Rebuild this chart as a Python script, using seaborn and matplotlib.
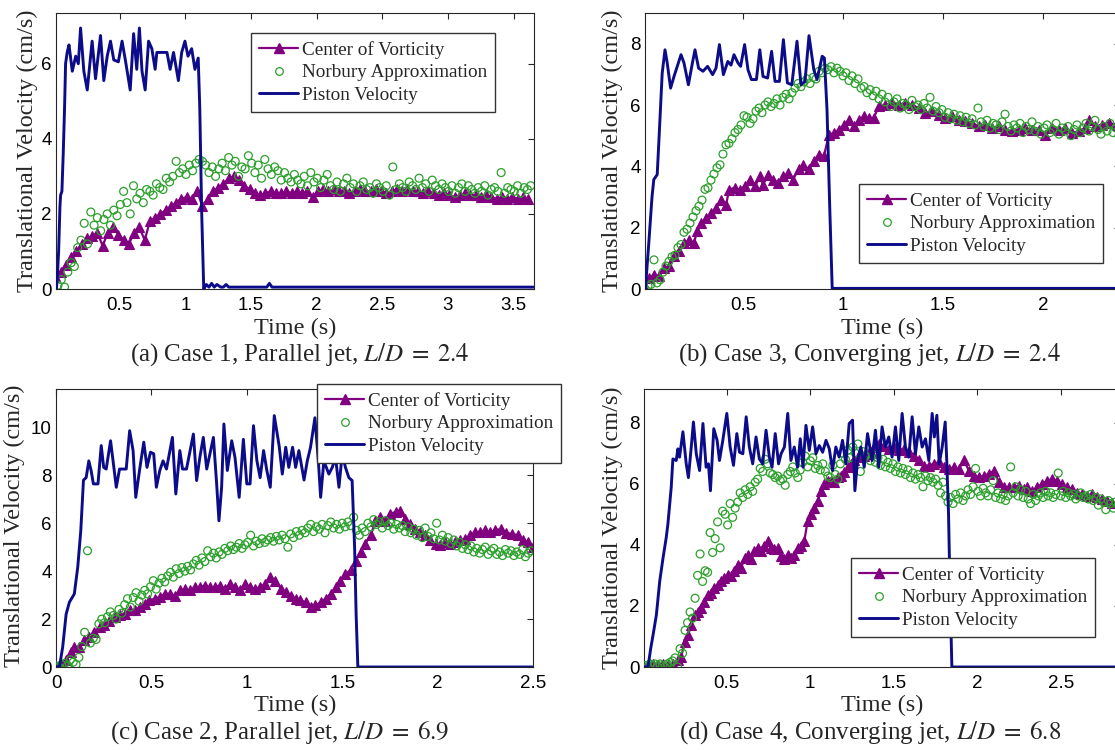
import numpy as np
import matplotlib
matplotlib.use("Agg")
import matplotlib.pyplot as plt
from matplotlib.lines import Line2D
from matplotlib.ticker import FuncFormatter
import seaborn as sns

# ---------------- data ----------------
LABELS = ["Center of Vorticity", "Norbury Approximation", "Piston Velocity"]
CAPTIONS = [r"(a) Case 1, Parallel jet, $L/D\;=\;2.4$",
            r"(b) Case 3, Converging jet, $L/D\;=\;2.4$",
            r"(c) Case 2, Parallel jet, $L/D\;=\;6.9$",
            r"(d) Case 4, Converging jet, $L/D\;=\;6.8$"]
XLABEL = "Time (s)"
YLABEL = "Translational Velocity (cm/s)"

# ---- panel (a) ----
a_xticks = [0.5, 1, 1.5, 2, 2.5, 3, 3.5]
a_yticks = [0, 2, 4, 6]
a_pis_t = [0.018, 0.025, 0.035, 0.045, 0.05, 0.06, 0.07, 0.08, 0.088, 0.1, 0.114, 0.139, 0.165, 0.185, 0.202,
           0.227, 0.253, 0.29, 0.316, 0.354, 0.379, 0.405, 0.43, 0.455, 0.49, 0.518, 0.543, 0.58, 0.606, 0.63,
           0.65, 0.67, 0.694, 0.72, 0.745, 0.77, 0.783, 0.80, 0.82, 0.84, 0.86, 0.884, 0.91, 0.947, 0.972,
           0.997, 1.02, 1.048, 1.073, 1.098, 1.11, 1.124, 1.14, 1.16, 1.18, 1.20, 1.22, 1.24, 1.27, 1.29,
           1.31, 1.33, 1.62, 1.64, 1.66, 3.65]
a_pis_v = [0.0, 0.3, 1.0, 2.2, 2.5, 2.6, 3.6, 4.8, 6.0, 6.3, 6.5, 5.8, 6.2, 6.0, 6.95,
           5.8, 5.3, 6.6, 5.6, 6.75, 5.55, 6.2, 6.6, 6.1, 6.05, 6.6, 6.1, 5.3, 6.8, 5.85,
           6.95, 5.8, 5.3, 6.6, 6.4, 5.85, 6.3, 6.3, 6.3, 6.3, 6.3, 5.85, 6.3, 5.55, 6.3,
           6.6, 6.2, 6.4, 5.85, 6.15, 4.8, 2.1, 0.0, 0.12, 0.05, 0.15, 0.05, 0.12, 0.05, 0.05,
           0.12, 0.05, 0.05, 0.15, 0.05, 0.05]
a_cov_t0, a_cov_dt = 0.01, 0.04
a_cov_v = [0.35, 0.45, 0.65, 0.85, 1.0, 1.2, 1.35, 1.4, 1.5, 1.15,
           1.5, 1.65, 1.45, 1.3, 1.2, 1.5, 1.65, 1.3, 1.8, 1.9,
           2.0, 2.1, 2.2, 2.3, 2.4, 2.45, 2.4, 2.6, 2.2, 2.4,
           2.6, 2.7, 2.8, 2.95, 3.0, 2.9, 2.75, 2.65, 2.55, 2.5,
           2.55, 2.6, 2.55, 2.55, 2.6, 2.55, 2.6, 2.55, 2.6, 2.45,
           2.6, 2.65, 2.6, 2.65, 2.6, 2.6, 2.55, 2.6, 2.65, 2.6,
           2.6, 2.65, 2.6, 2.55, 2.6, 2.65, 2.6, 2.65, 2.6, 2.6,
           2.55, 2.6, 2.55, 2.5, 2.55, 2.5, 2.45, 2.5, 2.55, 2.5,
           2.5, 2.45, 2.5, 2.45, 2.4, 2.45, 2.4, 2.45, 2.4, 2.45,
           2.4]
a_nb_t0, a_nb_dt = 0.03, 0.025
a_nb_v = [0.1, 0.25, 0.05, 0.45, 0.7, 0.6, 1.1, 1.3, 1.75, 1.2,
          2.05, 1.7, 1.9, 1.55, 1.85, 2.0, 1.7, 2.1, 1.95, 2.25,
          2.6, 2.3, 2.0, 2.75, 2.4, 2.55, 2.3, 2.65, 2.6, 2.5,
          2.8, 2.7, 2.65, 2.95, 2.85, 3.0, 3.4, 3.1, 3.2, 3.05,
          3.3, 3.15, 3.35, 3.45, 3.4, 3.3, 3.1, 3.25, 3.0, 3.2,
          3.35, 3.15, 3.5, 3.3, 3.4, 3.0, 3.25, 3.2, 3.55, 3.35,
          3.1, 3.3, 2.95, 3.45, 3.2, 3.05, 3.25, 3.15, 2.9, 3.1,
          2.95, 2.85, 3.05, 2.9, 2.8, 3.0, 2.75, 3.1, 2.85, 2.95,
          2.7, 2.9, 3.05, 2.75, 2.65, 2.85, 2.6, 2.8, 2.95, 2.7,
          2.8, 2.6, 2.75, 2.85, 2.65, 2.7, 2.55, 2.8, 2.7, 2.6,
          2.75, 2.5, 3.25, 2.65, 2.8, 2.7, 2.6, 2.85, 2.75, 2.65,
          2.95, 2.7, 2.8, 2.6, 2.9, 2.75, 2.65, 2.8, 2.7, 2.6,
          2.75, 2.55, 2.7, 2.8, 2.6, 2.75, 2.65, 2.55, 2.7, 2.6,
          2.75, 2.5, 2.65, 2.7, 2.6, 3.1, 2.55, 2.7, 2.65, 2.6,
          2.75, 2.55, 2.7, 2.65, 2.75]

# ---- panel (b) ----
b_xticks = [0.5, 1, 1.5, 2]
b_yticks = [0, 2, 4, 6, 8]
b_pis_t = [0.01, 0.012, 0.029, 0.045, 0.054, 0.071, 0.079, 0.096, 0.11, 0.12, 0.138, 0.155, 0.19, 0.205,
           0.227, 0.247, 0.26, 0.278, 0.3, 0.323, 0.348, 0.365, 0.382, 0.402, 0.424, 0.44, 0.455, 0.475,
           0.488, 0.508, 0.525, 0.542, 0.567, 0.584, 0.6, 0.623, 0.643, 0.66, 0.682, 0.702, 0.722, 0.744,
           0.77, 0.79, 0.81, 0.83, 0.854, 0.87, 0.896, 0.907, 0.92, 0.934, 0.946, 2.4]
b_pis_v = [0.0, 0.0, 1.5, 3.0, 3.57, 3.73, 4.76, 7.04, 7.8, 7.42, 6.55, 6.93, 7.64, 7.37,
           6.66, 7.37, 7.8, 7.2, 7.1, 7.26, 6.99, 7.2, 7.97, 6.99, 7.42, 7.3, 7.64, 7.37,
           7.26, 7.97, 7.15, 6.83, 6.83, 7.8, 6.93, 6.88, 7.75, 6.77, 6.77, 8.13, 6.72, 6.66,
           8.08, 6.66, 6.77, 8.26, 7.15, 6.83, 7.59, 7.53, 5.85, 2.59, 0.02, 0.02]
b_cov_t = [0.008, 0.03, 0.055, 0.08, 0.105, 0.13, 0.155, 0.18, 0.205, 0.23,
           0.255, 0.27, 0.29, 0.315, 0.34, 0.365, 0.39, 0.416, 0.43, 0.458,
           0.483, 0.508, 0.534, 0.56, 0.584, 0.6, 0.626, 0.65, 0.677, 0.7,
           0.727, 0.75, 0.778, 0.8, 0.83, 0.853, 0.879, 0.904, 0.93, 0.955,
           0.98, 1.005, 1.03, 1.055, 1.08, 1.106, 1.13, 1.153, 1.18, 1.21,
           1.245, 1.28, 1.31, 1.345, 1.38, 1.41, 1.445, 1.48, 1.51, 1.545,
           1.58, 1.61, 1.645, 1.68, 1.71, 1.745, 1.78, 1.81, 1.845, 1.88,
           1.91, 1.945, 1.98, 2.01, 2.045, 2.08, 2.11, 2.145, 2.18, 2.21,
           2.23, 2.26, 2.295, 2.33, 2.37, 2.40]
b_cov_v = [0.0, 0.36, 0.47, 0.41, 0.68, 0.74, 1.07, 1.23, 1.5, 1.6,
           1.5, 1.88, 2.15, 2.3, 2.48, 2.64, 2.9, 2.75, 3.24, 3.3,
           3.24, 3.35, 3.57, 3.35, 3.67, 3.4, 3.73, 3.57, 3.46, 3.67,
           3.78, 3.57, 3.9, 4.05, 3.9, 4.16, 4.38, 4.33, 5.03, 5.09,
           5.2, 5.36, 5.52, 5.3, 5.52, 5.63, 5.58, 5.58, 5.96, 6.0,
           6.07, 6.0, 6.07, 6.0, 5.9, 5.74, 5.8, 5.69, 5.58, 5.63,
           5.52, 5.47, 5.41, 5.3, 5.36, 5.25, 5.3, 5.2, 5.14, 5.2,
           5.25, 5.2, 5.2, 5.03, 5.25, 5.2, 5.25, 5.09, 5.14, 5.25,
           5.52, 5.3, 5.36, 5.41, 5.36, 5.3]
b_nb_t0, b_nb_dt = 0.01, 0.015
b_nb_v = [0.0, 0.1, 0.15, 0.95, 0.2, 0.3, 0.55, 0.75, 0.9, 1.05,
          1.1, 1.35, 1.45, 1.85, 1.95, 2.15, 2.35, 2.55, 2.7, 2.9,
          3.25, 3.3, 3.55, 3.75, 3.95, 4.05, 4.4, 4.7, 4.75, 4.9,
          5.1, 5.2, 5.35, 5.65, 5.6, 5.4, 5.55, 5.8, 5.9, 5.75,
          6.0, 6.1, 5.95, 6.05, 6.2, 6.0, 6.25, 6.35, 6.2, 6.4,
          6.55, 6.7, 6.6, 6.75, 6.85, 6.7, 6.9, 6.85, 7.1, 7.05,
          7.2, 7.15, 7.25, 7.05, 7.2, 7.1, 6.95, 7.05, 6.8, 6.95,
          6.7, 6.85, 6.55, 6.6, 6.4, 6.5, 6.3, 6.45, 6.2, 6.35,
          6.1, 6.25, 5.95, 6.1, 6.2, 5.9, 6.05, 6.0, 5.85, 6.15,
          5.95, 6.0, 5.85, 6.05, 5.9, 6.25, 5.8, 5.95, 5.75, 5.85,
          5.6, 5.75, 5.55, 5.7, 5.5, 5.65, 5.45, 5.6, 5.4, 5.55,
          5.35, 5.9, 5.45, 5.3, 5.5, 5.25, 5.4, 5.35, 5.2, 5.45,
          5.7, 5.3, 5.15, 5.35, 5.25, 5.4, 5.1, 5.3, 5.2, 5.45,
          5.15, 5.3, 5.05, 5.25, 5.35, 5.1, 5.2, 5.4, 5.05, 5.25,
          5.15, 5.3, 5.0, 5.2, 5.35, 5.1, 5.25, 5.4, 5.15, 5.3,
          5.5, 5.2, 5.05, 5.3, 5.15, 5.4, 5.1, 5.25, 5.0, 5.2]

# ---- panel (c) ----
c_xticks = [0, 0.5, 1, 1.5, 2, 2.5]
c_yticks = [0, 2, 4, 6, 8, 10]
c_pis_t = [0.0, 0.018, 0.035, 0.053, 0.07, 0.096, 0.114, 0.13, 0.144, 0.158,
           0.172, 0.184, 0.196, 0.22, 0.237, 0.25, 0.263, 0.286, 0.3, 0.316,
           0.333, 0.368, 0.386, 0.404, 0.418, 0.44, 0.46, 0.477, 0.495, 0.512,
           0.526, 0.544, 0.561, 0.579, 0.61, 0.628, 0.649, 0.663, 0.684, 0.72,
           0.737, 0.754, 0.772, 0.79, 0.825, 0.842, 0.854, 0.868, 0.88, 0.898,
           0.921, 0.938, 0.96, 0.982, 1.0, 1.017, 1.035, 1.053, 1.07, 1.088,
           1.105, 1.123, 1.144, 1.17, 1.186, 1.204, 1.22, 1.24, 1.256, 1.273,
           1.3, 1.317, 1.334, 1.357, 1.375, 1.387, 1.404, 1.43, 1.448, 1.465,
           1.483, 1.5, 1.517, 1.535, 1.552, 1.565, 1.573, 1.582, 2.5]
c_pis_v = [0.0, 0.0, 0.83, 2.2, 2.7, 3.05, 4.17, 5.7, 7.8, 7.9,
           8.6, 8.2, 7.64, 7.64, 9.24, 8.33, 8.26, 9.44, 8.54, 7.5,
           8.26, 8.26, 9.86, 9.03, 7.08, 8.33, 9.38, 8.33, 8.96, 8.9,
           7.5, 8.2, 8.6, 8.26, 9.58, 7.22, 9.03, 8.26, 8.26, 9.72,
           7.78, 8.75, 9.58, 8.26, 9.58, 7.64, 6.1, 7.5, 10.14, 8.2,
           9.44, 8.75, 7.08, 9.5, 7.64, 7.64, 10.07, 8.6, 7.9, 9.03,
           8.2, 7.5, 10.49, 9.2, 8.05, 9.17, 8.33, 9.17, 8.33, 9.03,
           7.8, 8.6, 9.17, 10.4, 8.6, 7.08, 8.6, 8.05, 8.33, 8.75,
           7.5, 8.9, 8.33, 7.9, 7.78, 5.0, 2.2, 0.0, 0.0]
c_cov_t = [0.0, 0.026, 0.053, 0.08, 0.096, 0.12, 0.149, 0.175, 0.2, 0.228,
           0.254, 0.28, 0.307, 0.333, 0.36, 0.386, 0.412, 0.44, 0.465, 0.49,
           0.518, 0.544, 0.57, 0.596, 0.623, 0.65, 0.675, 0.7, 0.728, 0.754,
           0.78, 0.807, 0.833, 0.86, 0.886, 0.912, 0.94, 0.965, 0.99, 1.017,
           1.044, 1.07, 1.096, 1.123, 1.15, 1.18, 1.204, 1.23, 1.256, 1.28,
           1.31, 1.334, 1.36, 1.387, 1.413, 1.44, 1.465, 1.49, 1.517, 1.544,
           1.57, 1.596, 1.62, 1.65, 1.674, 1.7, 1.726, 1.75, 1.78, 1.805,
           1.83, 1.857, 1.883, 1.91, 1.935, 1.96, 1.99, 2.014, 2.04, 2.066,
           2.09, 2.12, 2.145, 2.17, 2.197, 2.223, 2.25, 2.275, 2.3, 2.33,
           2.36, 2.39, 2.42, 2.45, 2.475, 2.5]
c_cov_v = [0.0, 0.14, 0.28, 0.63, 0.83, 0.83, 1.11, 1.25, 1.46, 1.67,
           1.74, 1.94, 2.08, 2.15, 2.22, 2.36, 2.36, 2.5, 2.64, 2.78,
           2.85, 2.92, 3.05, 3.05, 2.98, 3.2, 3.26, 3.2, 3.33, 3.33,
           3.4, 3.33, 3.33, 3.4, 3.26, 3.47, 3.33, 3.2, 3.47, 3.33,
           3.26, 3.33, 3.47, 3.75, 3.6, 3.26, 3.125, 2.98, 2.85, 2.78,
           2.7, 2.5, 2.57, 2.7, 2.85, 3.05, 3.33, 3.6, 3.9, 4.03,
           4.44, 4.8, 5.14, 5.5, 6.1, 6.25, 6.1, 6.4, 6.46, 6.53,
           6.18, 5.97, 5.76, 5.625, 5.5, 5.28, 5.14, 5.07, 5.2, 5.14,
           5.2, 5.28, 5.35, 5.5, 5.625, 5.625, 5.7, 5.625, 5.7, 5.76,
           5.6, 5.55, 5.5, 5.3, 5.2, 5.0]
c_nb_t0, c_nb_dt = 0.0, 0.015
c_nb_v = [0.05, 0.0, 0.1, 0.15, 0.05, 0.3, 0.2, 0.1, 0.4, 0.85,
          1.45, 4.85, 1.0, 1.2, 1.15, 1.8, 2.0, 1.85, 2.1, 2.3,
          2.15, 2.0, 2.4, 2.25, 2.6, 2.85, 2.5, 2.9, 3.1, 2.75,
          3.0, 3.2, 3.05, 3.35, 3.6, 3.25, 3.5, 3.7, 3.55, 3.8,
          3.95, 3.75, 4.1, 3.9, 4.15, 4.0, 4.2, 4.05, 4.3, 4.45,
          4.25, 4.55, 4.4, 4.85, 4.6, 4.75, 4.55, 4.8, 4.7, 4.95,
          4.85, 5.05, 4.9, 5.0, 5.15, 4.95, 5.1, 5.2, 5.5, 5.05,
          5.25, 5.15, 5.35, 5.2, 5.3, 5.4, 5.25, 5.45, 5.3, 5.5,
          5.35, 5.0, 5.55, 5.4, 5.65, 5.5, 5.7, 5.6, 5.8, 5.95,
          5.65, 5.85, 5.75, 5.95, 5.6, 5.9, 6.05, 5.8, 5.95, 5.75,
          6.0, 5.85, 6.05, 5.9, 6.25, 5.7, 5.5, 5.8, 5.65, 6.0,
          5.85, 6.15, 5.95, 6.05, 5.8, 6.1, 5.9, 6.0, 5.75, 5.95,
          5.8, 5.9, 5.65, 5.85, 5.6, 5.75, 5.5, 5.7, 5.4, 5.8,
          5.45, 5.6, 5.35, 6.0, 5.3, 5.5, 5.25, 5.4, 5.15, 5.3,
          5.05, 5.2, 4.95, 5.1, 4.9, 5.05, 4.8, 4.95, 4.75, 4.9,
          5.0, 4.7, 4.85, 4.95, 4.7, 4.8, 4.65, 4.9, 4.75, 4.85,
          4.65, 4.8, 4.7, 4.9, 4.6, 4.75, 4.85]

# ---- panel (d) ----
d_xticks = [0.5, 1, 1.5, 2, 2.5]
d_yticks = [0, 2, 4, 6, 8]
d_pis_t = [0.004, 0.028, 0.044, 0.058, 0.078, 0.098, 0.118, 0.137, 0.147, 0.167,
           0.177, 0.197, 0.207, 0.217, 0.237, 0.257, 0.27, 0.287, 0.3, 0.317,
           0.337, 0.357, 0.376, 0.39, 0.402, 0.422, 0.442, 0.456, 0.476, 0.5,
           0.52, 0.54, 0.56, 0.576, 0.596, 0.616, 0.635, 0.655, 0.675, 0.695,
           0.715, 0.735, 0.755, 0.771, 0.79, 0.81, 0.825, 0.845, 0.865, 0.884,
           0.904, 0.924, 0.94, 0.956, 0.974, 0.994, 1.014, 1.034, 1.054, 1.074,
           1.094, 1.114, 1.133, 1.153, 1.173, 1.193, 1.213, 1.233, 1.253, 1.267,
           1.283, 1.303, 1.323, 1.343, 1.37, 1.39, 1.41, 1.43, 1.45, 1.47,
           1.49, 1.51, 1.53, 1.55, 1.57, 1.59, 1.61, 1.63, 1.65, 1.67,
           1.69, 1.71, 1.73, 1.743, 1.758, 1.772, 1.79, 1.808, 1.818, 1.828,
           1.838, 1.848, 2.86]
d_pis_v = [0.0, 0.0, 0.6, 1.04, 1.7, 2.8, 3.57, 4.23, 4.67, 5.88,
           6.81, 6.76, 7.14, 6.87, 7.7, 6.65, 6.2, 7.2, 8.02, 6.98,
           6.43, 7.97, 6.54, 6.65, 5.77, 7.8, 7.42, 6.76, 7.42, 8.3,
           7.2, 6.6, 7.64, 7.03, 6.98, 8.19, 7.2, 6.65, 7.53, 6.81,
           6.65, 7.75, 6.87, 6.54, 7.64, 6.65, 6.98, 7.2, 8.3, 6.76,
           7.2, 6.54, 7.47, 6.54, 7.91, 7.09, 7.86, 6.98, 7.25, 7.03,
           7.42, 7.14, 6.43, 7.2, 6.87, 7.42, 6.65, 7.97, 8.08, 5.77,
           6.76, 7.2, 6.54, 7.64, 6.76, 7.75, 6.54, 7.86, 7.2, 7.53,
           6.87, 7.86, 6.76, 8.3, 7.2, 6.87, 8.19, 6.98, 7.86, 7.2,
           7.47, 6.76, 8.3, 7.53, 8.24, 6.65, 7.2, 8.02, 6.65, 5.0,
           2.25, 0.0, 0.0]
d_cov_t = [0.004, 0.028, 0.058, 0.088, 0.118, 0.147, 0.177, 0.207, 0.227, 0.247,
           0.267, 0.287, 0.307, 0.327, 0.347, 0.366, 0.386, 0.406, 0.426, 0.446,
           0.466, 0.486, 0.506, 0.526, 0.546, 0.566, 0.586, 0.606, 0.626, 0.645,
           0.665, 0.685, 0.705, 0.725, 0.745, 0.765, 0.785, 0.805, 0.825, 0.845,
           0.865, 0.885, 0.904, 0.924, 0.944, 0.964, 0.984, 1.004, 1.024, 1.044,
           1.064, 1.084, 1.104, 1.124, 1.143, 1.163, 1.183, 1.203, 1.223, 1.243,
           1.263, 1.283, 1.303, 1.323, 1.343, 1.363, 1.38, 1.41, 1.44, 1.47,
           1.5, 1.53, 1.56, 1.59, 1.62, 1.65, 1.68, 1.71, 1.74, 1.77,
           1.8, 1.83, 1.86, 1.89, 1.92, 1.95, 1.98, 2.01, 2.04, 2.07,
           2.1, 2.13, 2.16, 2.19, 2.22, 2.25, 2.28, 2.3, 2.33, 2.36,
           2.39, 2.42, 2.45, 2.48, 2.51, 2.54, 2.57, 2.6, 2.63, 2.66,
           2.69, 2.72, 2.75, 2.78, 2.81, 2.84, 2.87]
d_cov_v = [0.0, 0.05, 0.1, 0.05, 0.1, 0.05, 0.1, 0.22, 0.33, 0.82,
           1.04, 1.37, 1.7, 1.81, 1.92, 2.14, 2.36, 2.42, 2.58, 2.69,
           2.8, 2.91, 3.02, 2.97, 3.13, 3.35, 3.24, 3.57, 3.68, 3.52,
           3.79, 3.9, 3.79, 3.96, 4.12, 3.9, 3.85, 3.9, 3.63, 3.52,
           3.68, 3.57, 3.68, 3.9, 3.96, 4.12, 4.78, 5.0, 5.22, 5.44,
           5.77, 5.99, 6.1, 6.1, 6.04, 6.21, 6.26, 6.37, 6.54, 6.65,
           6.76, 6.87, 6.98, 6.92, 6.98, 7.03, 7.2, 7.3, 7.25, 7.14,
           7.2, 7.09, 7.14, 7.03, 6.92, 6.76, 6.59, 6.59, 6.65, 6.7,
           6.54, 6.48, 6.54, 6.48, 6.76, 6.43, 6.26, 6.21, 6.26, 6.32,
           6.43, 6.04, 5.88, 5.88, 5.88, 5.93, 5.82, 5.88, 5.77, 5.88,
           5.99, 6.1, 6.15, 6.1, 5.99, 5.88, 5.82, 5.71, 5.66, 5.6,
           5.66, 5.55, 5.49, 5.44, 5.38, 5.4, 5.35]
d_nb_t0, d_nb_dt = 0.01, 0.015
d_nb_v = [0.05, 0.0, 0.1, 0.05, 0.1, 0.0, 0.1, 0.05, 0.0, 0.1,
          0.15, 0.2, 0.3, 0.0, 0.6, 0.45, 1.2, 1.45, 1.8, 1.6,
          2.25, 3.0, 3.7, 2.8, 3.15, 3.1, 4.4, 3.75, 4.2, 4.75,
          3.9, 5.1, 5.0, 4.65, 5.35, 4.9, 5.2, 5.4, 5.7, 5.55,
          5.8, 5.65, 5.9, 5.75, 6.05, 6.15, 6.5, 6.4, 6.8, 6.65,
          6.35, 6.3, 6.2, 6.25, 6.1, 6.15, 5.95, 6.3, 6.4, 6.55,
          6.35, 6.2, 6.45, 6.7, 6.9, 6.55, 6.75, 6.85, 6.5, 6.6,
          6.45, 6.65, 6.4, 6.25, 6.2, 6.6, 6.3, 6.15, 6.65, 7.0,
          6.8, 7.1, 6.85, 7.2, 7.0, 7.3, 6.4, 7.05, 6.9, 7.0,
          6.75, 6.95, 6.7, 6.85, 6.6, 6.8, 6.55, 6.7, 6.5, 6.65,
          6.4, 6.55, 6.35, 6.5, 6.3, 6.45, 6.2, 6.35, 6.15, 6.3,
          6.2, 5.9, 6.25, 6.1, 6.2, 6.05, 6.15, 5.95, 5.7, 6.05,
          5.6, 5.4, 5.55, 5.35, 5.65, 5.5, 5.7, 5.45, 5.6, 5.8,
          5.65, 5.9, 6.5, 5.75, 5.6, 5.85, 5.7, 5.6, 5.8, 6.1,
          5.55, 5.7, 5.5, 5.65, 5.45, 5.6, 6.55, 5.7, 5.9, 5.6,
          5.8, 5.55, 5.75, 5.5, 5.35, 5.65, 5.45, 5.6, 5.7, 5.55,
          5.75, 5.6, 5.7, 5.55, 5.65, 6.35, 5.6, 5.75, 5.55, 5.7,
          5.6, 5.65, 5.5, 5.6, 5.7, 5.55, 5.6, 5.5, 5.65, 5.45,
          5.55, 5.3, 5.5, 5.4, 5.15, 5.45, 5.35, 5.2, 5.4, 5.3,
          5.35]

# ---------------- style ----------------
sns.set_theme(style="white")
plt.rcParams['font.family'] = ['Liberation Serif', 'DejaVu Serif']
plt.rcParams['mathtext.fontset'] = 'stix'

PURPLE = '#800080'
GREEN = '#2ca02c'
NAVY = '#0c0c8a'
SPINE = '#262626'

W, H = 1115, 750
fig = plt.figure(figsize=(W / 100, H / 100), dpi=100)


def frac_rect(l, r, t, b):
    return [l / W, 1 - b / H, (r - l) / W, (b - t) / H]


def grid(t0, dt, vals):
    return t0 + dt * np.arange(len(vals))


def panel(rect, xlim, ylim, xticks, yticks, cov_t, cov_v, nb_t, nb_v, pis_t, pis_v, leg_xy):
    ax = fig.add_axes(rect)
    sns.lineplot(x=np.asarray(cov_t), y=np.asarray(cov_v), ax=ax, color=PURPLE, linewidth=1.6,
                 marker='^', markersize=7.3, markerfacecolor=PURPLE, markeredgecolor=PURPLE,
                 markeredgewidth=0.8, estimator=None, sort=False, legend=False, zorder=2)
    sns.scatterplot(x=np.asarray(nb_t), y=np.asarray(nb_v), ax=ax, color=GREEN, marker='o', s=32,
                    legend=False, zorder=3)
    coll = ax.collections[-1]
    coll.set_facecolor('none')
    coll.set_edgecolor(GREEN)
    coll.set_linewidth(0.9)
    sns.lineplot(x=np.asarray(pis_t), y=np.asarray(pis_v), ax=ax, color=NAVY, linewidth=2.1,
                 estimator=None, sort=False, legend=False, zorder=4)
    ax.set_xlim(*xlim)
    ax.set_ylim(*ylim)
    ax.set_xticks(xticks)
    ax.set_yticks(yticks)
    fmt = FuncFormatter(lambda v, p: f'{v:g}')
    ax.xaxis.set_major_formatter(fmt)
    ax.yaxis.set_major_formatter(fmt)
    ax.set_xlabel('')
    ax.set_ylabel('')
    ax.tick_params(axis='both', direction='in', top=True, right=True, length=4.5, width=0.8,
                   color=SPINE, labelcolor='black', labelsize=13.5, labelfontfamily='Liberation Sans')
    ax.tick_params(axis='x', pad=6)
    ax.tick_params(axis='y', pad=3)
    for s in ax.spines.values():
        s.set_color(SPINE)
        s.set_linewidth(0.8)
        s.set_visible(True)
    handles = [Line2D([], [], color=PURPLE, lw=1.6, marker='^', ms=7.3, mfc=PURPLE, mec=PURPLE),
               Line2D([], [], ls='none', marker='o', ms=5.5, mfc='none', mec=GREEN, mew=0.9),
               Line2D([], [], color=NAVY, lw=2.1)]
    leg = ax.legend(handles, LABELS, loc='upper left',
                    bbox_to_anchor=(leg_xy[0] / W, 1 - leg_xy[1] / H),
                    bbox_transform=fig.transFigure, frameon=True, fancybox=False,
                    edgecolor='#333333', framealpha=1, fontsize=13.8, handlelength=2.05,
                    handletextpad=0.2, borderpad=0.42, labelspacing=0.26, numpoints=1,
                    borderaxespad=0)
    leg.get_frame().set_linewidth(1.0)
    return ax


panel(frac_rect(56, 534, 13, 289), (0.015, 3.655), (0, 7.35), a_xticks, a_yticks,
      grid(a_cov_t0, a_cov_dt, a_cov_v), a_cov_v, grid(a_nb_t0, a_nb_dt, a_nb_v), a_nb_v,
      a_pis_t, a_pis_v, (251, 33))
panel(frac_rect(645, 1120, 13, 289), (0.01, 2.385), (0, 9.0), b_xticks, b_yticks,
      b_cov_t, b_cov_v, grid(b_nb_t0, b_nb_dt, b_nb_v), b_nb_v,
      b_pis_t, b_pis_v, (859, 184))
panel(frac_rect(56, 533, 389, 667), (0.0, 2.5), (0, 11.6), c_xticks, c_yticks,
      c_cov_t, c_cov_v, grid(c_nb_t0, c_nb_dt, c_nb_v), c_nb_v,
      c_pis_t, c_pis_v, (317, 384))
panel(frac_rect(644, 1120, 389, 667), (0.004, 2.855), (0, 9.1), d_xticks, d_yticks,
      d_cov_t, d_cov_v, grid(d_nb_t0, d_nb_dt, d_nb_v), d_nb_v,
      d_pis_t, d_pis_v, (851, 558))

# axis labels and captions
for (x, y) in [(27, 151), (612, 151), (14, 526), (612, 528)]:
    fig.text(x / W, 1 - y / H, YLABEL, rotation=90, ha='center', va='center', fontsize=17.5)
for (x, y) in [(295, 328), (882, 328), (295, 705), (882, 705)]:
    fig.text(x / W, 1 - y / H, XLABEL, ha='center', va='center', fontsize=17.5)
for cap, (x, y) in zip(CAPTIONS, [(300, 355), (869, 355), (280, 733), (870, 733)]):
    fig.text(x / W, 1 - y / H, cap, ha='center', va='center', fontsize=18)

fig.savefig('out.png', dpi=100)
